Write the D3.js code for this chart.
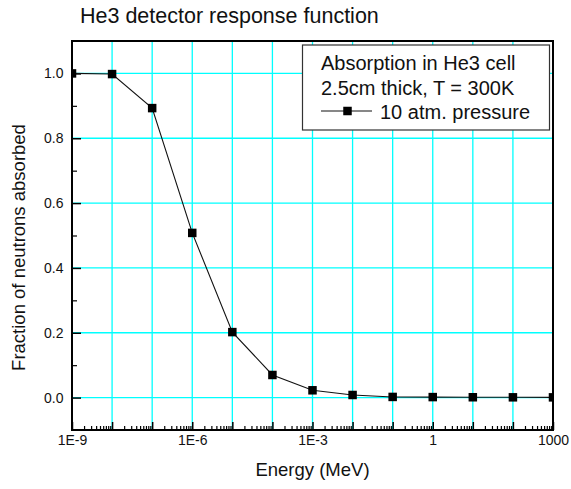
<!DOCTYPE html>
<html>
<head>
<meta charset="utf-8">
<script src="https://cdn.jsdelivr.net/npm/d3@7"></script>
<style>
  html, body { margin: 0; padding: 0; background: #fff; }
  svg { display: block; font-family: "Liberation Sans", Arial, Helvetica, sans-serif; }
</style>
</head>
<body>
<svg id="chart" width="571" height="489"></svg>
<script>
// ---- data ----
const energies = [1e-9, 1e-8, 1e-7, 1e-6, 1e-5, 1e-4, 1e-3, 1e-2, 1e-1, 1, 10, 100, 1000];
const fractionAbsorbed = [1.0, 0.998, 0.893, 0.508, 0.202, 0.0697, 0.0225, 0.008, 0.002, 0.0015, 0.001, 0.0008, 0.0007];
const xTickValues = [1e-9, 1e-6, 1e-3, 1, 1000];
const xTickLabels = ["1E-9", "1E-6", "1E-3", "1", "1000"];
const yTickValues = [0.0, 0.2, 0.4, 0.6, 0.8, 1.0];
const yTickLabels = ["0.0", "0.2", "0.4", "0.6", "0.8", "1.0"];
const yMinorTicks = [0.1, 0.3, 0.5, 0.7, 0.9];
const titleText = "He3 detector response function";
const xLabel = "Energy (MeV)";
const yLabel = "Fraction of neutrons absorbed";
const legendLines = ["Absorption in He3 cell", "2.5cm thick, T = 300K"];
const seriesName = "10 atm. pressure";

// ---- layout ----
const L = 72, R = 553, T = 41, B = 430;
const svg = d3.select("#chart");
const x = d3.scaleLog().domain([1e-9, 1e3]).range([L, R]);
const y = d3.scaleLinear().domain([-0.1, 1.1]).range([B, T]);

// clip
svg.append("defs").append("clipPath").attr("id", "plotclip")
  .append("rect").attr("x", L).attr("y", T).attr("width", R - L).attr("height", B - T);

// grid
const decades = d3.range(-9, 4).map(p => Math.pow(10, p));
const grid = svg.append("g").attr("stroke", "#00ffff").attr("stroke-width", 1.3);
grid.selectAll("line.v").data(decades.slice(1, -1)).join("line")
  .attr("x1", d => x(d)).attr("x2", d => x(d)).attr("y1", T).attr("y2", B);
grid.selectAll("line.h").data(yTickValues).join("line")
  .attr("x1", L).attr("x2", R).attr("y1", d => y(d)).attr("y2", d => y(d));

// x axis ticks (inward)
const xMajor = decades;
const xMinor = [];
for (let p = -9; p < 3; p++) for (let k = 2; k <= 9; k++) xMinor.push(k * Math.pow(10, p));
const xAxisMajor = d3.axisBottom(x).tickValues(xMajor).tickSize(-8).tickFormat("");
const xAxisMinor = d3.axisBottom(x).tickValues(xMinor).tickSize(-4).tickFormat("");
svg.append("g").attr("transform", `translate(0,${B})`).call(xAxisMinor)
  .call(g => g.select(".domain").remove())
  .selectAll("line").attr("stroke", "#000").attr("stroke-width", 1.2);
svg.append("g").attr("transform", `translate(0,${B})`).call(xAxisMajor)
  .call(g => g.select(".domain").remove())
  .selectAll("line").attr("stroke", "#000").attr("stroke-width", 1.5);
// x labels
const xLab = d3.axisBottom(x).tickValues(xTickValues).tickSize(0)
  .tickFormat((d, i) => xTickLabels[i]).tickPadding(5);
svg.append("g").attr("transform", `translate(0,${B})`).call(xLab)
  .call(g => g.select(".domain").remove())
  .selectAll("text").attr("font-size", 14).attr("fill", "#111")
  .attr("font-family", "Liberation Sans, Arial, sans-serif");

// y axis
const yAxisMajor = d3.axisLeft(y).tickValues(yTickValues).tickSize(-9)
  .tickFormat((d, i) => yTickLabels[i]).tickPadding(8.5);
svg.append("g").attr("transform", `translate(${L},0)`).call(yAxisMajor)
  .call(g => g.select(".domain").remove())
  .call(g => g.selectAll("line").attr("stroke", "#000").attr("stroke-width", 1.5))
  .call(g => g.selectAll("text").attr("font-size", 14).attr("fill", "#111")
    .attr("font-family", "Liberation Sans, Arial, sans-serif"));
const yAxisMinor = d3.axisLeft(y).tickValues(yMinorTicks).tickSize(-5).tickFormat("");
svg.append("g").attr("transform", `translate(${L},0)`).call(yAxisMinor)
  .call(g => g.select(".domain").remove())
  .selectAll("line").attr("stroke", "#000").attr("stroke-width", 1.2);

// data line + markers
const line = d3.line().x(d => x(d[0])).y(d => y(d[1]));
const pts = energies.map((e, i) => [e, fractionAbsorbed[i]]);
const plot = svg.append("g").attr("clip-path", "url(#plotclip)");
plot.append("path").datum(pts).attr("d", line)
  .attr("fill", "none").attr("stroke", "#111").attr("stroke-width", 1.1);
const ms = 8.5;
plot.selectAll("rect.m").data(pts).join("rect")
  .attr("x", d => x(d[0]) - ms / 2).attr("y", d => y(d[1]) - ms / 2)
  .attr("width", ms).attr("height", ms).attr("fill", "#000");

// frame
svg.append("rect").attr("x", L).attr("y", T).attr("width", R - L).attr("height", B - T)
  .attr("fill", "none").attr("stroke", "#000").attr("stroke-width", 2);

// title & axis labels
svg.append("text").attr("x", 80).attr("y", 23).attr("font-size", 21.5).attr("fill", "#111")
  .text(titleText);
svg.append("text").attr("x", (L + R) / 2).attr("y", 476).attr("text-anchor", "middle")
  .attr("font-size", 18.5).attr("fill", "#111").text(xLabel);
svg.append("text").attr("transform", "translate(25,247.5) rotate(-90)")
  .attr("text-anchor", "middle").attr("font-size", 18.5).attr("fill", "#111").text(yLabel);

// legend
const lg = svg.append("g");
lg.append("rect").attr("x", 302.5).attr("y", 45).attr("width", 247).attr("height", 85)
  .attr("fill", "#fff").attr("stroke", "#333").attr("stroke-width", 1.2);
lg.selectAll("text.l").data(legendLines).join("text")
  .attr("x", 321).attr("y", (d, i) => 70 + i * 24.5)
  .attr("font-size", 20).attr("fill", "#111").text(d => d);
lg.append("line").attr("x1", 321).attr("x2", 372).attr("y1", 111).attr("y2", 111)
  .attr("stroke", "#111").attr("stroke-width", 1.1);
lg.append("rect").attr("x", 347.5 - ms / 2).attr("y", 111 - ms / 2).attr("width", ms).attr("height", ms)
  .attr("fill", "#000");
lg.append("text").attr("x", 380).attr("y", 119).attr("font-size", 20).attr("fill", "#111")
  .text(seriesName);
</script>
</body>
</html>
